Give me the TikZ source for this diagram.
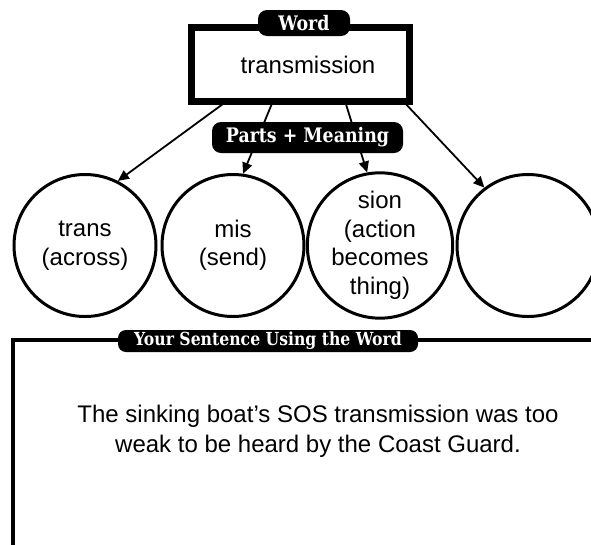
\documentclass[tikz,border=0pt]{standalone}
\usepackage{fontspec}
\setmainfont{Liberation Sans}
\newfontfamily\tagfont{DejaVu Serif}[FakeStretch=0.87]
\usetikzlibrary{arrows.meta}

\begin{document}
\begin{tikzpicture}[x=1pt,y=-1pt,
  tag/.style={fill=black, text=white, rounded corners=9pt, inner sep=0pt,
    font=\tagfont\bfseries\fontsize{20}{20}\selectfont},
  part/.style={circle, draw, line width=3pt, minimum size=142pt, inner sep=0pt,
    align=center, font=\fontsize{24}{28.5}\selectfont},
  wordbox/.style={draw, line width=7pt, minimum width=218pt, minimum height=74pt},
  link/.style={line width=1.8pt, -{Triangle[length=11pt,width=10pt]}},
  frame/.style={line width=3.5pt},
]
\useasboundingbox (0,0) rectangle (591,544);
\begin{scope}
\clip (0,0) rectangle (591,544);

% the four word-part circles
\node[part] (c1) at (85,245.5) {trans\\(across)};
\node[part] (c2) at (233,245.5) {mis\\(send)};
\node[part] (c3) at (380,245.5) {sion\\(action\\becomes\\thing)};
\node[part] (c4) at (528,245.5) {};

% arrows leave the bottom edge of the word box
\coordinate (a1) at (227,101);
\coordinate (a2) at (273,101);
\coordinate (a3) at (345,101);
\coordinate (a4) at (403,101);
\draw[link] (a1) -- (c1.63);
\draw[link] (a2) -- (c2.82);
\draw[link] (a3) -- (c3.100);
\draw[link] (a4) -- (c4.127);

% word box and its labels
\node[wordbox, fill=white] (word) at (300,64.5) {};
\node[anchor=base, font=\fontsize{24}{28}\selectfont] (wtext) at (308,73) {transmission};
\node[tag, minimum width=92pt, minimum height=26pt] (wtag) at (304,23) {Word};
\node[tag, minimum width=191pt, minimum height=31pt] (ptag) at (307.5,137.5) {Parts + Meaning};

% sentence frame
\coordinate (fbl) at (13,560);
\coordinate (ftl) at (13,340);
\coordinate (ftr) at (610,340);
\draw[frame] (fbl) -- (ftl) -- (ftr);
\node[tag, rounded corners=8pt, minimum width=300pt, minimum height=22pt,
  font=\tagfont\bfseries\fontsize{18}{18}\selectfont] (stag) at (268,341)
  {Your Sentence Using the Word};
\node[align=center, font=\fontsize{24}{29.5}\selectfont] (sent) at (318,431.5)
  {The sinking boat’s SOS transmission was too\\weak to be heard by the Coast Guard.};
\end{scope}
\end{tikzpicture}
\end{document}
